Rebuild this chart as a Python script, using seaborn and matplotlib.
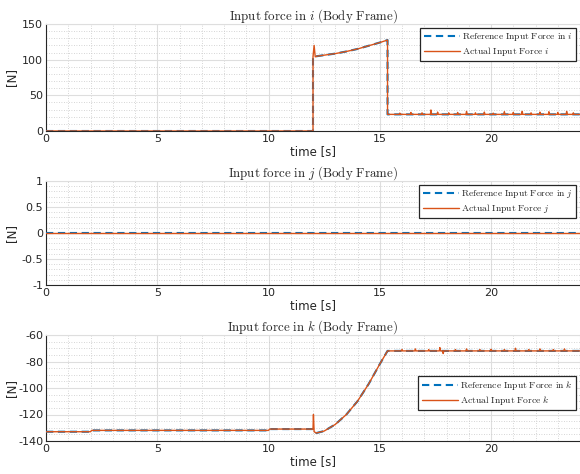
import numpy as np
import pandas as pd
import matplotlib
matplotlib.use("Agg")
import matplotlib.pyplot as plt
import seaborn as sns
from matplotlib.ticker import MultipleLocator

# ---------------- data ----------------
# i direction: reference polyline
t_i_ref = [0.0, 12.0, 12.0, 12.2, 13.0, 13.5, 14.0, 14.5, 15.0, 15.35, 15.35, 24.0]
f_i_ref = [0.0, 0.0, 104.0, 105.0, 108.5, 111.5, 115.0, 119.5, 124.0, 127.5, 23.3, 23.3]
# actual i: same shape plus spikes
t_i_act = [0.0, 12.0, 12.0, 12.05, 12.1, 12.2, 13.0, 13.5, 14.0, 14.5, 15.0, 15.35, 15.35]
f_i_act = [0.0, 0.0, 104.0, 120.0, 104.0, 105.0, 108.5, 111.5, 115.0, 119.5, 124.0, 127.5, 23.3]
i_base = 23.3
i_spike_t = [15.9, 16.4, 16.9, 17.3, 17.6, 18.1, 18.5, 18.9, 19.3, 19.7, 20.1, 20.6,
             21.0, 21.4, 21.8, 22.2, 22.6, 23.0, 23.4, 23.7]
i_spike_v = [25.0, 26.0, 25.5, 29.5, 26.5, 25.5, 26.0, 27.5, 25.5, 26.5, 25.0, 27.0,
             26.0, 27.5, 25.5, 26.5, 27.0, 26.0, 27.5, 25.5]

# j direction
t_j = [0.0, 24.0]
f_j = [0.0, 0.0]

# k direction: reference polyline
t_k_ref = [0.0, 2.0, 2.05, 10.0, 10.05, 12.0, 12.15, 12.5, 13.0, 13.5, 14.0, 14.5, 15.0, 15.35, 24.0]
f_k_ref = [-133.0, -133.0, -132.0, -132.0, -131.0, -131.0, -134.0, -132.5, -127.5, -120.0,
           -110.0, -97.0, -82.0, -72.0, -72.0]
t_k_act = [0.0, 2.0, 2.05, 10.0, 10.05, 12.0, 12.02, 12.05, 12.15, 12.5, 13.0, 13.5, 14.0,
           14.5, 15.0, 15.35]
f_k_act = [-133.0, -133.0, -132.0, -132.0, -131.0, -131.0, -120.0, -133.0, -134.0, -132.5,
           -127.5, -120.0, -110.0, -97.0, -82.0, -72.0]
k_base = -72.0
k_spike_t = [16.0, 16.6, 17.2, 17.7, 17.85, 18.4, 18.9, 19.5, 20.0, 20.6, 21.1, 21.7,
             22.2, 22.8, 23.3]
k_spike_v = [-71.0, -70.5, -71.0, -69.5, -74.0, -71.0, -70.5, -71.0, -70.8, -71.0, -70.0,
             -71.0, -70.5, -71.0, -70.5]

x_end = 24.0


def add_spikes(t, f, base, st, sv, end):
    t = list(t)
    f = list(f)
    for ts, vs in zip(st, sv):
        t += [ts - 0.02, ts, ts + 0.03]
        f += [base, vs, base]
    t.append(end)
    f.append(base)
    return t, f


t_i_act, f_i_act = add_spikes(t_i_act, f_i_act, i_base, i_spike_t, i_spike_v, x_end)
t_k_act, f_k_act = add_spikes(t_k_act, f_k_act, k_base, k_spike_t, k_spike_v, x_end)

# ---------------- style ----------------
sns.set_theme(style="white")
plt.rcParams["font.family"] = ["DejaVu Sans"]
plt.rcParams["mathtext.fontset"] = "cm"

blue = "#0072BD"
orange = "#D95319"

fig = plt.figure(figsize=(5.8, 4.74), dpi=100)

W = 580.0
H = 474.0
left = 46 / W
width = (580 - 46) / W
boxes = [(24, 131), (181, 285), (335, 441)]

panels = [
    dict(tr=t_i_ref, fr=f_i_ref, ta=t_i_act, fa=f_i_act, var="i",
         ylim=(0, 150), minor=10,
         yticks=[0, 50, 100, 150], ylabels=["0", "50", "100", "150"],
         leg=(0.9925, 0.965)),
    dict(tr=t_j, fr=f_j, ta=t_j, fa=f_j, var="j",
         ylim=(-1, 1), minor=0.1,
         yticks=[-1, -0.5, 0, 0.5, 1], ylabels=["-1", "-0.5", "0", "0.5", "1"],
         leg=(0.9925, 0.965)),
    dict(tr=t_k_ref, fr=f_k_ref, ta=t_k_act, fa=f_k_act, var="k",
         ylim=(-140, -60), minor=5,
         yticks=[-140, -120, -100, -80, -60], ylabels=["-140", "-120", "-100", "-80", "-60"],
         leg=(0.9925, 0.615)),
]

for (ytop, ybot), p in zip(boxes, panels):
    ax = fig.add_axes([left, 1 - ybot / H, width, (ybot - ytop) / H])
    v = p["var"]
    dref = pd.DataFrame({"t": p["tr"], "f": p["fr"]})
    dact = pd.DataFrame({"t": p["ta"], "f": p["fa"]})
    lab_ref = r"$\mathrm{Reference\ Input\ Force\ in\ }%s$" % v
    lab_act = r"$\mathrm{Actual\ Input\ Force\ }%s$" % v
    sns.lineplot(data=dref, x="t", y="f", ax=ax, color=blue, lw=1.5, ls=(0, (3.5, 2.2)),
                 estimator=None, sort=False, label=lab_ref, zorder=3)
    sns.lineplot(data=dact, x="t", y="f", ax=ax, color=orange, lw=1.0,
                 estimator=None, sort=False, label=lab_act, zorder=4)
    ax.set_xlim(0, x_end)
    ax.set_ylim(*p["ylim"])
    ax.xaxis.set_major_locator(MultipleLocator(5))
    ax.xaxis.set_minor_locator(MultipleLocator(1))
    ax.set_yticks(p["yticks"])
    ax.set_yticklabels(p["ylabels"])
    ax.yaxis.set_minor_locator(MultipleLocator(p["minor"]))
    ax.grid(which="major", color="#dedede", lw=0.8, ls="-")
    ax.grid(which="minor", color="#c8c8c8", lw=0.6, ls=(0, (1, 2)))
    ax.set_axisbelow(True)
    ax.tick_params(which="both", direction="in", labelsize=8, length=0, pad=2,
                   labelcolor="#262626")
    ax.tick_params(which="major", length=3, color="#262626")
    for s in ["left", "bottom"]:
        ax.spines[s].set_color("#262626")
        ax.spines[s].set_linewidth(0.8)
    for s in ["top", "right"]:
        ax.spines[s].set_color("#dedede")
        ax.spines[s].set_linewidth(0.8)
    ax.set_xlabel("time [s]", fontsize=8.5, labelpad=1, color="#262626")
    ax.set_ylabel("[N]", fontsize=8.5, color="#262626")
    ax.yaxis.set_label_coords(-0.052, 0.5)
    ax.set_title(r"$\mathrm{Input\ force\ in\ }%s\mathrm{\ (Body\ Frame)}$" % v,
                 fontsize=9.3, pad=3)
    leg = ax.legend(loc="upper right", bbox_to_anchor=p["leg"], fontsize=6.9,
                    frameon=True, fancybox=False, edgecolor="#262626",
                    handlelength=3.75, borderpad=0.35, labelspacing=0.2,
                    handletextpad=0.25, borderaxespad=0.0)
    leg.get_frame().set_linewidth(0.9)
    leg.get_frame().set_facecolor("white")
    leg.get_frame().set_alpha(1)

fig.savefig("out.png", dpi=100)
